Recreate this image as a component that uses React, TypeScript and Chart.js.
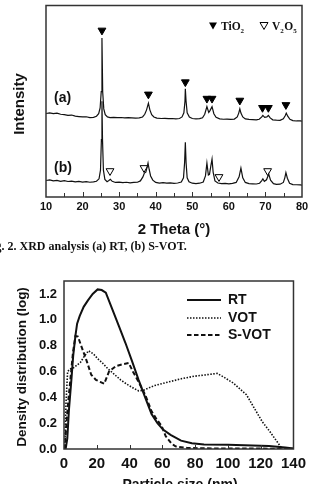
import React, { useEffect, useRef } from "react";
import { Chart, registerables } from "chart.js";

Chart.register(...registerables);

// ---------- XRD patterns (2θ in degrees, intensity in arbitrary units) ----------
const thetaA = [
  10.0, 11.0, 12.0, 13.0, 14.0, 15.0, 16.0, 17.0, 18.0, 19.0, 20.0, 21.0, 22.0, 23.0, 23.8,
  24.4, 24.8, 25.1, 25.3, 25.5, 25.8, 26.2, 26.8, 27.5, 28.5, 29.5, 30.5, 31.5, 32.5, 33.5,
  34.5, 35.5, 36.4, 37.0, 37.5, 38.0, 38.4, 38.9, 39.5, 40.3, 41.5, 42.5, 43.5, 44.5, 45.5,
  46.5, 47.2, 47.7, 48.0, 48.1, 48.3, 48.6, 49.2, 50.0, 51.0, 52.0, 52.8, 53.4, 54.0, 54.5,
  54.8, 55.4, 55.9, 56.5, 57.5, 58.5, 59.5, 60.5, 61.5, 62.3, 62.7, 63.0, 63.3, 63.8, 64.5,
  65.5, 66.5, 67.5, 68.3, 69.0, 69.3, 69.8, 70.4, 70.8, 71.3, 72.0, 73.0, 74.0, 74.9, 75.4,
  75.7, 76.1, 76.7, 77.5, 78.5, 79.5, 80.0,
];
const intensityA = [
  43.6, 43.9, 43.5, 43.8, 43.2, 43.0, 42.6, 42.8, 42.2, 42.0, 41.8, 41.9, 41.5, 41.6, 42.2,
  43.5, 46.5, 55.0, 83.0, 55.0, 46.0, 43.0, 41.8, 41.5, 41.6, 41.4, 41.5, 41.3, 41.4, 41.3,
  41.2, 41.3, 41.8, 43.2, 45.5, 49.0, 45.5, 43.0, 41.8, 41.2, 41.0, 41.1, 40.9, 41.0, 40.8,
  41.0, 41.8, 44.0, 50.0, 56.5, 50.0, 44.0, 41.8, 41.0, 40.8, 40.9, 41.4, 43.2, 47.2, 44.2,
  45.0, 47.2, 43.5, 41.6, 40.8, 40.6, 40.7, 40.5, 40.7, 41.8, 43.8, 46.0, 43.8, 41.8, 40.8,
  40.5, 40.4, 40.3, 40.6, 41.8, 42.6, 41.6, 41.8, 42.6, 41.3, 40.3, 40.1, 40.0, 40.8, 42.4,
  43.8, 42.2, 40.6, 39.9, 39.7, 39.7, 39.6,
];

const thetaB = [
  10.0, 11.0, 12.0, 13.0, 14.0, 15.0, 16.0, 17.0, 18.0, 19.0, 20.0, 21.0, 22.0, 23.0, 23.8,
  24.5, 24.9, 25.15, 25.3, 25.45, 25.7, 26.1, 26.7, 27.2, 27.6, 28.1, 29.0, 30.0, 31.0, 32.0,
  33.0, 34.0, 35.0, 35.8, 36.5, 36.9, 37.3, 37.7, 37.9, 38.2, 38.6, 39.2, 40.0, 41.0, 42.0,
  43.0, 44.0, 45.0, 46.0, 47.0, 47.6, 47.9, 48.1, 48.3, 48.6, 49.1, 50.0, 51.0, 52.0, 53.0,
  53.6, 54.0, 54.4, 54.7, 55.1, 55.4, 55.7, 56.2, 57.0, 58.0, 59.0, 60.0, 61.0, 62.0, 62.8,
  63.3, 63.8, 64.5, 65.5, 66.5, 67.5, 68.4, 69.0, 69.3, 69.7, 70.3, 70.9, 71.4, 72.2, 73.0,
  74.0, 74.9, 75.3, 75.6, 76.0, 76.6, 77.5, 78.5, 79.5, 80.0,
];
const intensityB = [
  8.6, 8.9, 8.4, 8.7, 8.2, 8.5, 8.1, 8.3, 7.9, 8.2, 7.8, 8.0, 7.7, 7.9, 8.2,
  9.5, 14.0, 30.0, 50.0, 30.0, 14.0, 9.2, 8.0, 8.6, 9.2, 8.2, 7.6, 7.8, 7.5, 7.7,
  7.4, 7.6, 7.7, 8.4, 10.5, 12.5, 13.0, 16.0, 17.7, 14.5, 11.0, 8.8, 7.6, 7.3, 7.5,
  7.2, 7.4, 7.1, 7.3, 7.8, 10.0, 18.0, 28.6, 18.0, 10.0, 8.0, 7.2, 7.0, 7.2, 7.8,
  11.0, 17.7, 11.5, 11.8, 16.5, 19.8, 13.0, 8.4, 7.3, 7.0, 7.1, 6.9, 7.1, 7.6, 10.5,
  15.1, 10.0, 7.6, 7.0, 6.9, 6.8, 7.2, 8.6, 9.5, 8.2, 9.0, 12.0, 8.8, 7.0, 6.6,
  6.7, 7.6, 10.0, 12.7, 9.8, 7.2, 6.5, 6.4, 6.3, 6.2,
];

// Phase markers: anatase TiO2 on pattern (a), V2O5 on pattern (b)
const tio2Theta = [25.3, 38.0, 48.1, 54.0, 55.4, 63.0, 69.2, 70.8, 75.6];
const tio2Mark = [87.0, 53.6, 60.0, 51.4, 51.4, 50.4, 46.6, 46.6, 48.1];
const v2o5Theta = [27.5, 36.8, 57.3, 70.6];
const v2o5Mark = [13.6, 15.2, 10.5, 13.6];

// ---------- Particle size distributions ----------
const sizeRT = [
  1, 2, 3, 4.6, 5.6, 7, 8, 9.6, 12, 14.6, 17.5, 20.5, 23, 25.5, 29.5, 33.5, 37.5, 41.5,
  45.5, 49.5, 53.4, 57, 60.4, 65, 71.4, 78, 85.4, 100, 115, 125, 135, 140,
];
const densityRT = [
  0, 0.08, 0.3, 0.55, 0.72, 0.88, 0.97, 1.03, 1.1, 1.15, 1.2, 1.235, 1.23, 1.21, 1.08, 0.95,
  0.82, 0.68, 0.535, 0.4, 0.27, 0.2, 0.15, 0.11, 0.065, 0.045, 0.035, 0.032, 0.028, 0.023,
  0.012, 0.003,
];
const sizeVOT = [
  0.5, 1.2, 2.2, 4, 6, 8, 10, 12.5, 15, 18, 20.5, 23.5, 26.5, 30.5, 34.5, 38.5, 42.5, 45.5,
  48.5, 55, 65.4, 72, 79.4, 86, 93.4, 97, 103.3, 111.3, 117.3, 121, 125.3, 131.2, 133,
];
const densityVOT = [
  0, 0.35, 0.6, 0.62, 0.63, 0.65, 0.67, 0.72, 0.76, 0.735, 0.7, 0.665, 0.625, 0.58, 0.535,
  0.5, 0.47, 0.45, 0.455, 0.49, 0.524, 0.545, 0.563, 0.573, 0.585, 0.56, 0.51, 0.42, 0.29,
  0.21, 0.14, 0.035, 0,
];
const sizeSVOT = [
  0.5, 1.5, 2.6, 4, 5.5, 7, 8.5, 11, 13.6, 16.6, 19.5, 22, 24.5, 27.5, 31.5, 35.5, 39.5, 42,
  45.5, 49.5, 53.5, 56.5, 59.5, 62, 65.4, 68, 75, 85, 140,
];
const densitySVOT = [
  0, 0.2, 0.37, 0.55, 0.75, 0.875, 0.87, 0.78, 0.69, 0.575, 0.535, 0.52, 0.505, 0.6, 0.64,
  0.655, 0.665, 0.6, 0.52, 0.42, 0.29, 0.23, 0.18, 0.1, 0.045, 0.02, 0.008, 0.005, 0.002,
];

const SANS = "'Liberation Sans', Arial, sans-serif";
const SERIF = "'Liberation Serif', 'Times New Roman', serif";
const INK = "#111";
const FRAME = "#333";

const pairs = (xs: number[], ys: number[]) => xs.map((x, i) => ({ x, y: ys[i] }));

function downTriangle(ctx: CanvasRenderingContext2D, cx: number, cy: number, w: number, filled: boolean) {
  const h = w * 0.87;
  ctx.beginPath();
  ctx.moveTo(cx - w / 2, cy - h / 2);
  ctx.lineTo(cx + w / 2, cy - h / 2);
  ctx.lineTo(cx, cy + h / 2);
  ctx.closePath();
  if (filled) {
    ctx.fillStyle = "#000";
    ctx.fill();
  } else {
    ctx.fillStyle = "#fff";
    ctx.fill();
    ctx.strokeStyle = "#000";
    ctx.lineWidth = 1;
    ctx.stroke();
  }
}

// text with numeric subscripts, e.g. V2O5
function chemText(ctx: CanvasRenderingContext2D, parts: [string, boolean][], x: number, y: number) {
  let cx = x;
  for (const [s, sub] of parts) {
    ctx.font = sub ? `bold 7px ${SERIF}` : `bold 11.5px ${SERIF}`;
    ctx.fillText(s, cx, sub ? y + 3 : y);
    cx += ctx.measureText(s).width + (sub ? 0.5 : 0);
  }
}

const xrdDecor = {
  id: "xrdDecor",
  afterDraw(chart: any) {
    const { ctx, chartArea: ca } = chart;
    const xs = chart.scales.x;
    ctx.save();
    ctx.strokeStyle = FRAME;
    ctx.lineWidth = 1.5;
    ctx.strokeRect(ca.left, ca.top, ca.right - ca.left, ca.bottom - ca.top);
    ctx.lineWidth = 1;
    ctx.beginPath();
    for (let t = 15; t < 80; t += 5) {
      const px = Math.round(xs.getPixelForValue(t)) + 0.5;
      ctx.moveTo(px, ca.bottom);
      ctx.lineTo(px, ca.bottom - (t % 10 === 0 ? 5 : 4));
    }
    ctx.stroke();

    ctx.fillStyle = INK;
    ctx.textBaseline = "middle";
    ctx.textAlign = "left";
    ctx.font = `bold 14px ${SANS}`;
    ctx.fillText("(a)", 54, 98);
    ctx.fillText("(b)", 54, 168);

    ctx.save();
    ctx.translate(20, 104);
    ctx.rotate(-Math.PI / 2);
    ctx.textAlign = "center";
    ctx.font = `bold 15px ${SANS}`;
    ctx.fillText("Intensity", 0, 0);
    ctx.restore();

    ctx.textAlign = "center";
    ctx.font = `bold 15px ${SANS}`;
    ctx.fillText("2 Theta (°)", 174, 230);

    // phase legend
    ctx.textAlign = "left";
    ctx.textBaseline = "alphabetic";
    downTriangle(ctx, 213, 26, 8, true);
    ctx.fillStyle = INK;
    chemText(ctx, [["TiO", false], ["2", true]], 221, 30);
    downTriangle(ctx, 264, 26, 8, false);
    ctx.fillStyle = INK;
    chemText(ctx, [["V", false], ["2", true], ["O", false], ["5", true]], 272, 30);

    // figure caption
    ctx.font = `bold 12px ${SERIF}`;
    const caption = "Fig. 2. XRD analysis (a) RT, (b) S-VOT.";
    const lead = ctx.measureText("Fig").width;
    ctx.fillText(caption, 1.5 - lead, 250);
    ctx.restore();
  },
};

const sizeDecor = {
  id: "sizeDecor",
  afterDraw(chart: any) {
    const { ctx, chartArea: ca } = chart;
    const xs = chart.scales.x;
    ctx.save();
    ctx.strokeStyle = FRAME;
    ctx.lineWidth = 1.5;
    ctx.strokeRect(ca.left, ca.top, ca.right - ca.left, ca.bottom - ca.top);
    ctx.lineWidth = 1;
    ctx.beginPath();
    for (let t = 20; t < 140; t += 20) {
      const px = Math.round(xs.getPixelForValue(t)) + 0.5;
      ctx.moveTo(px, ca.bottom);
      ctx.lineTo(px, ca.bottom - 4);
    }
    ctx.stroke();

    ctx.fillStyle = INK;
    ctx.save();
    ctx.translate(22, 112);
    ctx.rotate(-Math.PI / 2);
    ctx.textAlign = "center";
    ctx.textBaseline = "middle";
    ctx.font = `bold 13.5px ${SANS}`;
    ctx.fillText("Density distribution (log)", 0, 0);
    ctx.restore();

    ctx.textAlign = "center";
    ctx.textBaseline = "alphabetic";
    ctx.font = `bold 14px ${SANS}`;
    ctx.fillText("Particle size (nm)", 180, 234);

    // legend
    const entries: [string, number[], number, number][] = [
      ["RT", [], 2, 45],
      ["VOT", [1.5, 1.5], 1.6, 63],
      ["S-VOT", [4.5, 2.5], 2, 80],
    ];
    ctx.textAlign = "left";
    ctx.textBaseline = "middle";
    ctx.font = `bold 14px ${SANS}`;
    for (const [label, dash, w, y] of entries) {
      ctx.strokeStyle = INK;
      ctx.lineWidth = w;
      ctx.setLineDash(dash);
      ctx.beginPath();
      ctx.moveTo(187, y);
      ctx.lineTo(221, y);
      ctx.stroke();
      ctx.setLineDash([]);
      ctx.fillText(label, 228, y + 0.5);
    }
    ctx.restore();
  },
};

function XrdChart() {
  const ref = useRef<HTMLCanvasElement>(null);
  useEffect(() => {
    if (!ref.current) return;
    const chart = new Chart(ref.current, {
      type: "scatter",
      data: {
        datasets: [
          { data: pairs(thetaA, intensityA), showLine: true, borderColor: INK, borderWidth: 1.2, pointRadius: 0 },
          { data: pairs(thetaB, intensityB), showLine: true, borderColor: INK, borderWidth: 1.2, pointRadius: 0 },
          {
            data: pairs(tio2Theta, tio2Mark),
            pointStyle: "triangle",
            rotation: 180,
            pointRadius: 4.5,
            backgroundColor: "#000",
            borderColor: "#000",
            borderWidth: 1,
          },
          {
            data: pairs(v2o5Theta, v2o5Mark),
            pointStyle: "triangle",
            rotation: 180,
            pointRadius: 4.5,
            backgroundColor: "#fff",
            borderColor: "#000",
            borderWidth: 1,
          },
        ],
      } as any,
      options: {
        animation: false,
        responsive: false,
        events: [],
        layout: { padding: { left: 0, top: 5, right: 10, bottom: 0 } },
        plugins: { legend: { display: false }, tooltip: { enabled: false } },
        scales: {
          x: {
            type: "linear",
            min: 10,
            max: 80,
            grid: { display: false, drawTicks: false },
            border: { display: false },
            ticks: {
              stepSize: 10,
              padding: 3,
              maxRotation: 0,
              autoSkip: false,
              color: INK,
              font: { family: SANS, size: 11, weight: "bold" },
            },
            afterFit: (s: any) => {
              s.height = 58;
            },
          },
          y: {
            type: "linear",
            min: 0,
            max: 100,
            grid: { display: false, drawTicks: false },
            border: { display: false },
            ticks: { display: false },
            afterFit: (s: any) => {
              s.width = 46;
            },
          },
        },
      } as any,
      plugins: [xrdDecor],
    });
    return () => chart.destroy();
  }, []);
  return <canvas ref={ref} width={312} height={255} style={{ display: "block" }} />;
}

function SizeChart() {
  const ref = useRef<HTMLCanvasElement>(null);
  useEffect(() => {
    if (!ref.current) return;
    const chart = new Chart(ref.current, {
      type: "scatter",
      data: {
        datasets: [
          { label: "RT", data: pairs(sizeRT, densityRT), showLine: true, borderColor: INK, borderWidth: 2, pointRadius: 0 },
          {
            label: "VOT",
            data: pairs(sizeVOT, densityVOT),
            showLine: true,
            borderColor: INK,
            borderWidth: 1.6,
            borderDash: [1.5, 1.5],
            pointRadius: 0,
          },
          {
            label: "S-VOT",
            data: pairs(sizeSVOT, densitySVOT),
            showLine: true,
            borderColor: INK,
            borderWidth: 2,
            borderDash: [4.5, 2.5],
            pointRadius: 0,
          },
        ],
      } as any,
      options: {
        animation: false,
        responsive: false,
        events: [],
        layout: { padding: { left: 0, top: 26, right: 14, bottom: 0 } },
        plugins: { legend: { display: false }, tooltip: { enabled: false } },
        scales: {
          x: {
            type: "linear",
            min: 0,
            max: 140,
            grid: { display: false, drawTicks: false },
            border: { display: false },
            ticks: {
              stepSize: 20,
              padding: 6,
              maxRotation: 0,
              autoSkip: false,
              color: INK,
              font: { family: SANS, size: 15, weight: "bold" },
            },
            afterFit: (s: any) => {
              s.height = 35;
            },
          },
          y: {
            type: "linear",
            min: 0,
            max: 1.3,
            grid: { display: false, drawTicks: false },
            border: { display: false },
            ticks: {
              stepSize: 0.2,
              includeBounds: false,
              padding: 7,
              color: INK,
              font: { family: SANS, size: 13, weight: "bold" },
              callback: (v: any) => Number(v).toFixed(1),
            },
            afterFit: (s: any) => {
              s.width = 64;
            },
          },
        },
      } as any,
      plugins: [sizeDecor],
    });
    return () => chart.destroy();
  }, []);
  return <canvas ref={ref} width={312} height={229} style={{ display: "block" }} />;
}

export default function App() {
  return (
    <div style={{ position: "fixed", left: 0, top: 0, width: 312, height: 484, background: "#fff", overflow: "hidden" }}>
      <XrdChart />
      <SizeChart />
    </div>
  );
}
